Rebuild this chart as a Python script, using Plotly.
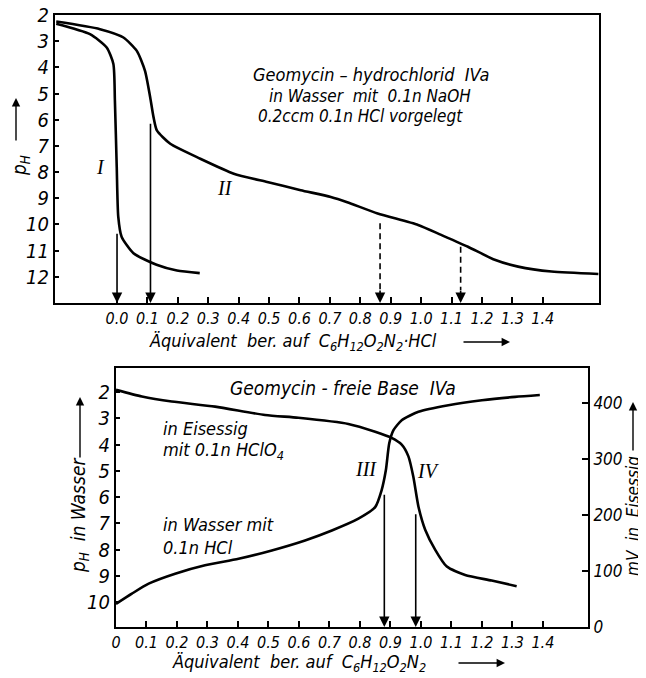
import plotly.graph_objects as go

# ---------------- data ----------------
# Top panel: Geomycin-hydrochlorid IVa, pH vs equivalents
curve1_x = [-0.20, -0.089, -0.034, -0.012, -0.007, -0.001, 0.004, 0.015, 0.054, 0.13, 0.197, 0.272]
curve1_ph = [2.33, 2.73, 3.24, 3.87, 5.27, 7.8, 9.7, 10.47, 11.1, 11.54, 11.76, 11.86]

curve2_x = [-0.20, -0.056, 0.021, 0.065, 0.092, 0.109, 0.12, 0.131, 0.175, 0.274, 0.384, 0.494,
            0.604, 0.703, 0.757, 0.857, 0.99, 1.066, 1.154, 1.242, 1.319, 1.429, 1.583]
curve2_ph = [2.25, 2.54, 2.86, 3.37, 4.13, 5.14, 5.9, 6.41, 6.92, 7.49, 8.06, 8.38,
             8.69, 8.95, 9.15, 9.58, 10.02, 10.4, 10.85, 11.35, 11.61, 11.8, 11.89]

top_solid_arrow_x = [0.0, 0.11]
top_solid_arrow_from = [10.3, 6.1]
top_dashed_arrow_x = [0.865, 1.13]
top_dashed_arrow_from = [9.95, 10.85]

top_xticks = [0.0, 0.1, 0.2, 0.3, 0.4, 0.5, 0.6, 0.7, 0.8, 0.9, 1.0, 1.1, 1.2, 1.3, 1.4]
top_xticktext = ["0.0", "0.1", "0.2", "0.3", "0.4", "0.5", "0.6", "0.7", "0.8", "0.9",
                 "1.0", "1.1", "1.2", "1.3", "1.4"]
top_yticks = [2, 3, 4, 5, 6, 7, 8, 9, 10, 11, 12]

# Bottom panel: Geomycin-freie Base IVa
curve3_x = [0.0, 0.052, 0.107, 0.194, 0.292, 0.402, 0.511, 0.62, 0.708, 0.795, 0.85, 0.871,
            0.885, 0.896, 0.91, 0.937, 0.992, 1.09, 1.2, 1.309, 1.39]
curve3_ph = [10.07, 9.68, 9.30, 8.92, 8.60, 8.35, 8.03, 7.65, 7.27, 6.82, 6.38, 5.74,
             4.98, 3.96, 3.45, 3.07, 2.75, 2.50, 2.31, 2.18, 2.11]

curve4_x = [0.0, 0.085, 0.183, 0.325, 0.489, 0.598, 0.762, 0.85, 0.904, 0.937, 0.959, 0.975,
            0.992, 1.014, 1.047, 1.085, 1.145, 1.232, 1.314]
curve4_mv = [424, 412, 403, 394, 379, 374, 363, 349, 338, 326, 305, 269,
             215, 174, 138, 108, 93, 83, 73]

bottom_arrow_x = [0.88, 0.983]
bottom_arrow_from = [5.85, 6.6]

bottom_xticks = [0.0, 0.1, 0.2, 0.3, 0.4, 0.5, 0.6, 0.7, 0.8, 0.9, 1.0, 1.1, 1.2, 1.3, 1.4]
bottom_xticktext = ["0", "0.1", "0.2", "0.3", "0.4", "0.5", "0.6", "0.7", "0.8", "0.9",
                    "1.0", "1.1", "1.2", "1.3", "1.4"]
bottom_yticks = [2, 3, 4, 5, 6, 7, 8, 9, 10]
bottom_mvticks = [0, 100, 200, 300, 400]

# ---------------- layout helpers ----------------
# The page body has an 8px default margin, so the figure is 8px smaller
# and positions are measured from the window corner minus that offset.
OFF = 8
W, H = 646 - OFF, 678 - OFF
FONT = "DejaVu Sans Condensed, Liberation Sans Narrow, Liberation Sans, DejaVu Sans"
SERIF = "Liberation Serif, DejaVu Serif"


def px(x):
    return (x - OFF) / W


def py(y):
    return 1 - (y - OFF) / H


fig = go.Figure()
line_style = dict(color="black", width=2.6, shape="spline", smoothing=0.6)

fig.add_trace(go.Scatter(x=curve1_x, y=curve1_ph, mode="lines", line=line_style,
                         xaxis="x", yaxis="y", showlegend=False, hoverinfo="skip"))
fig.add_trace(go.Scatter(x=curve2_x, y=curve2_ph, mode="lines", line=line_style,
                         xaxis="x", yaxis="y", showlegend=False, hoverinfo="skip"))
fig.add_trace(go.Scatter(x=curve3_x, y=curve3_ph, mode="lines", line=line_style,
                         xaxis="x2", yaxis="y2", showlegend=False, hoverinfo="skip"))
fig.add_trace(go.Scatter(x=curve4_x, y=curve4_mv, mode="lines", line=line_style,
                         xaxis="x2", yaxis="y3", showlegend=False, hoverinfo="skip"))

annotations = []
TOP_BOTTOM_PH = 13.0
BOT_BOTTOM_PH = 10.95

# solid arrows (top)
for xv, yf in zip(top_solid_arrow_x, top_solid_arrow_from):
    annotations.append(dict(x=xv, y=TOP_BOTTOM_PH, ax=xv, ay=yf, xref="x", yref="y",
                            axref="x", ayref="y", showarrow=True, arrowhead=2,
                            arrowsize=1.3, arrowwidth=1.6, arrowcolor="black", text=""))
# dashed arrows (top)
for xv, yf in zip(top_dashed_arrow_x, top_dashed_arrow_from):
    fig.add_trace(go.Scatter(x=[xv, xv], y=[yf, TOP_BOTTOM_PH - 0.5], mode="lines",
                             line=dict(color="black", width=1.6, dash="6px,4px"),
                             xaxis="x", yaxis="y", showlegend=False, hoverinfo="skip"))
    annotations.append(dict(x=xv, y=TOP_BOTTOM_PH, ax=0, ay=-14, xref="x", yref="y",
                            showarrow=True, arrowhead=2, arrowsize=1.3, arrowwidth=1.6,
                            arrowcolor="black", text=""))
# solid arrows (bottom)
for xv, yf in zip(bottom_arrow_x, bottom_arrow_from):
    annotations.append(dict(x=xv, y=BOT_BOTTOM_PH, ax=xv, ay=yf, xref="x2", yref="y2",
                            axref="x2", ayref="y2", showarrow=True, arrowhead=2,
                            arrowsize=1.3, arrowwidth=1.6, arrowcolor="black", text=""))

# roman numeral labels
roman = [("I", -0.056, 7.82, "x", "y"), ("II", 0.355, 8.62, "x", "y"),
         ("III", 0.82, 4.94, "x2", "y2"), ("IV", 1.026, 5.0, "x2", "y2")]
for t, xv, yv, xr, yr in roman:
    annotations.append(dict(x=xv, y=yv, xref=xr, yref=yr, text=t, showarrow=False,
                            font=dict(family=SERIF, size=20, color="black", style="italic")))

# text blocks
txt = dict(family=FONT, size=18, color="black", style="italic")


def note(text, x, y, anchor="center", size=18, angle=0):
    f = dict(txt)
    f["size"] = size
    annotations.append(dict(x=px(x), y=py(y), xref="paper", yref="paper", text=text,
                            showarrow=False, xanchor=anchor, yanchor="middle",
                            font=f, textangle=angle))


note("Geomycin – hydrochlorid  IVa", 371, 75, size=18)
note("in Wasser  mit  0.1n NaOH", 370, 96, size=17)
note("0.2ccm 0.1n HCl vorgelegt", 361, 116, size=17)

note("Geomycin - freie Base  IVa", 343, 388, size=19)
note("in Eisessig", 161, 428, anchor="left", size=18)
note("mit 0.1n HClO<sub>4</sub>", 161, 451, anchor="left", size=18)
note("in Wasser mit", 161, 524, anchor="left", size=18)
note("0.1n HCl", 161, 547, anchor="left", size=18)

# axis titles
note("Äquivalent  ber. auf  C<sub>6</sub>H<sub>12</sub>O<sub>2</sub>N<sub>2</sub>·HCl", 147, 342,
     anchor="left", size=18)
note("Äquivalent  ber. auf  C<sub>6</sub>H<sub>12</sub>O<sub>2</sub>N<sub>2</sub>", 170, 663,
     anchor="left", size=18)
note("p<sub>H</sub>", 20, 166, angle=-90, size=19)
note("p<sub>H</sub>  in Wasser", 80, 516, angle=-90, size=19)
note("mV  in  Eisessig", 633, 516, angle=-90, size=17)


def arrow(x_tip, y_tip, ax, ay):
    annotations.append(dict(x=px(x_tip), y=py(y_tip), xref="paper", yref="paper",
                            ax=ax, ay=ay, showarrow=True, arrowhead=2, arrowsize=1.2,
                            arrowwidth=1.4, arrowcolor="black", text=""))


arrow(510, 342, -48, 0)
arrow(505, 663, -48, 0)
arrow(16, 98, 0, 44)
arrow(80, 397, 0, 62)
arrow(633, 402, 0, 50)

axis_common = dict(showline=True, linecolor="black", linewidth=2, showgrid=False,
                   zeroline=False, ticks="inside", tickcolor="black", ticklen=6,
                   tickwidth=1.5, automargin=False, ticklabeloverflow="allow")
yfont = dict(family=FONT, size=20, color="black", style="italic")
xfont = dict(family=FONT, size=16, color="black", style="italic")
mvfont = dict(family=FONT, size=17, color="black", style="italic")

fig.update_layout(
    width=W, height=H,
    margin=dict(l=0, r=0, t=0, b=0, pad=0, autoexpand=False),
    paper_bgcolor="white", plot_bgcolor="white",
    showlegend=False,
    xaxis=dict(axis_common, domain=[px(55), px(599)], range=[-0.204, 1.585],
               tickvals=top_xticks, ticktext=top_xticktext, mirror=True, anchor="y",
               tickfont=xfont),
    yaxis=dict(axis_common, domain=[py(303), py(15)], range=[13, 2],
               tickvals=top_yticks, mirror=True, anchor="x", ticklen=4, tickfont=yfont),
    xaxis2=dict(axis_common, domain=[px(116), px(588)], range=[0, 1.548],
                tickvals=bottom_xticks, ticktext=bottom_xticktext, mirror=True,
                anchor="y2", tickfont=xfont),
    yaxis2=dict(axis_common, domain=[py(627), py(368)], range=[10.95, 1.08],
                tickvals=bottom_yticks, anchor="x2", ticklen=4, tickfont=yfont),
    yaxis3=dict(axis_common, domain=[py(627), py(368)], range=[0, 463],
                tickvals=bottom_mvticks, overlaying="y2", side="right", anchor="x2",
                tickfont=mvfont),
    annotations=annotations,
)

fig.write_html("out.html")
